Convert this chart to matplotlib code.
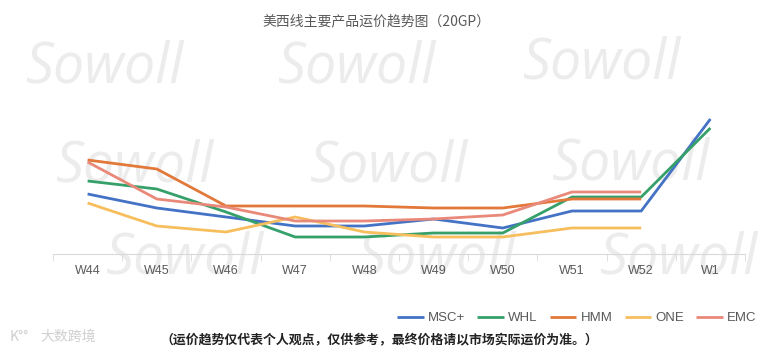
import numpy as np
import matplotlib.pyplot as plt

plt.rcParams['font.family'] = ['Noto Sans CJK SC', 'DejaVu Sans']

weeks = ["W44", "W45", "W46", "W47", "W48", "W49", "W50", "W51", "W52", "W1"]
msc = [60, 46, 37, 28, 28, 35, 26, 43, 43, 135]
whl = [73, 65, 42, 17, 17, 21, 21, 57, 57, 126]
hmm = [94, 85, 48, 48, 48, 46, 46, 55, 55, np.nan]
one = [51, 28, 22, 37, 22, 17, 17, 26, 26, np.nan]
emc = [92, 55, 47, 33, 33, 35, 39, 62, 62, np.nan]

series = [("MSC+", msc, "#4472C4"),
          ("WHL", whl, "#36A06A"),
          ("HMM", hmm, "#E2793A"),
          ("ONE", one, "#F7BE5E"),
          ("EMC", emc, "#E9897A")]

W, H = 774, 353
fig = plt.figure(figsize=(W / 100, H / 100), dpi=100)

# watermark "Sowoll" (pixel centres), behind everything
marks = [(105, 68), (357, 68), (602, 64),
         (135, 167), (389, 167), (631, 165),
         (185, 259), (437, 259), (679, 259)]
for mx, my in marks:
    fig.text(mx / W, 1 - my / H, "Sowoll", fontsize=40, style='italic',
             family='Open Sans', color='#ececec', ha='center', va='center',
             zorder=-5)

ax = fig.add_axes([53 / W, 1 - 254 / H, 692 / W, 194 / H])
ax.patch.set_alpha(0)
x = np.arange(len(weeks))
for name, vals, col in series:
    ax.plot(x, vals, color=col, lw=2.0, label=name, solid_capstyle='butt')

ax.set_xlim(-0.5, len(weeks) - 0.5)
ax.set_ylim(0, 194)
ax.set_yticks([])
ax.set_xticks(x)
ax.set_xticklabels(weeks, color='#595959', fontsize=9, family='Liberation Sans')
ax.tick_params(axis='x', length=0, pad=8)
ax.set_xticks(np.arange(-0.5, len(weeks)), minor=True)
ax.tick_params(axis='x', which='minor', length=5, color='#d9d9d9', direction='out')
for s in ['top', 'right', 'left']:
    ax.spines[s].set_visible(False)
ax.spines['bottom'].set_color('#d9d9d9')

fig.text(376 / W, 1 - 21 / H, "美西线主要产品运价趋势图（20GP）", ha='center', va='center',
         fontsize=10, color='#595959')

leg = fig.legend(loc='center', bbox_to_anchor=(577 / W, 1 - 318 / H), ncol=5,
                 frameon=False, handlelength=2.0, handletextpad=0.35,
                 columnspacing=0.9, prop={'family': 'Liberation Sans', 'size': 9.5})
for t in leg.get_texts():
    t.set_color('#595959')

fig.text(379 / W, 1 - 340 / H, "（运价趋势仅代表个人观点，仅供参考，最终价格请以市场实际运价为准。）",
         ha='center', va='center', fontsize=9.3, fontweight='bold', color='#222222')

fig.text(40 / W, 1 - 337 / H, "大数跨境", ha='left', va='center', fontsize=10,
         color='#cfcfcf')
fig.text(10 / W, 1 - 337 / H, "K°°", ha='left', va='center', fontsize=10,
         color='#cfcfcf')

fig.savefig("out.png", dpi=100, facecolor='white')
